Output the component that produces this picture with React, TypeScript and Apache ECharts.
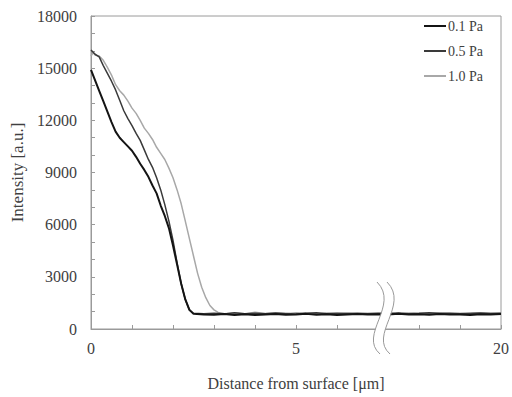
import React, { useEffect, useRef } from "react";
import * as echarts from "echarts";

// Distance [µm], intensity [a.u.]
const seriesNames = ["0.1 Pa", "0.5 Pa", "1.0 Pa"];

const pa01: [number, number][] = [
  [0, 14900], [0.1, 14300], [0.2, 13700], [0.3, 13100], [0.4, 12500], [0.5, 11900],
  [0.6, 11350], [0.7, 11000], [0.8, 10750], [0.9, 10500], [1.0, 10250], [1.1, 9900],
  [1.2, 9500], [1.3, 9150], [1.4, 8750], [1.5, 8250], [1.6, 7800], [1.7, 7100],
  [1.8, 6500], [1.9, 5800], [2.0, 4800], [2.1, 3700], [2.2, 2600], [2.3, 1700],
  [2.4, 1100], [2.5, 870], [2.75, 840], [3.0, 820], [3.25, 860], [3.5, 810],
  [3.75, 850], [4.0, 800], [4.25, 840], [4.5, 860], [4.75, 820], [5.0, 830],
  [5.25, 870], [5.5, 820], [5.75, 850], [6.0, 810], [6.25, 840], [6.5, 860],
  [6.75, 830], [7.0, 850], [17.25, 840], [17.5, 870], [17.75, 830], [18.0, 850],
  [18.25, 820], [18.5, 860], [18.75, 830], [19.0, 840], [19.25, 810], [19.5, 850],
  [19.75, 830], [20.0, 860],
];

const pa05: [number, number][] = [
  [0, 16050], [0.1, 15800], [0.2, 15650], [0.3, 15150], [0.4, 14700], [0.5, 14250],
  [0.6, 13750], [0.7, 13150], [0.8, 12550], [0.9, 12100], [1.0, 11700], [1.1, 11250],
  [1.2, 10850], [1.3, 10300], [1.4, 9750], [1.5, 9300], [1.6, 8700], [1.7, 8000],
  [1.8, 7150], [1.9, 6200], [2.0, 5100], [2.1, 3800], [2.2, 2600], [2.3, 1700],
  [2.4, 1100], [2.5, 900], [2.75, 880], [3.0, 910], [3.25, 870], [3.5, 940],
  [3.75, 880], [4.0, 900], [4.25, 870], [4.5, 920], [4.75, 890], [5.0, 860],
  [5.25, 900], [5.5, 940], [5.75, 880], [6.0, 900], [6.25, 870], [6.5, 910],
  [6.75, 880], [7.0, 900], [17.25, 890], [17.5, 920], [17.75, 880], [18.0, 900],
  [18.25, 930], [18.5, 890], [18.75, 910], [19.0, 880], [19.25, 900], [19.5, 920],
  [19.75, 890], [20.0, 900],
];

const pa10: [number, number][] = [
  [0, 15700], [0.05, 15900], [0.1, 15750], [0.2, 15700], [0.3, 15450], [0.4, 15050],
  [0.5, 14600], [0.6, 14050], [0.7, 13700], [0.8, 13450], [0.9, 13100], [1.0, 12700],
  [1.1, 12400], [1.2, 12000], [1.3, 11550], [1.4, 11250], [1.5, 10900], [1.6, 10450],
  [1.7, 10100], [1.8, 9750], [1.9, 9250], [2.0, 8700], [2.1, 8000], [2.2, 7200],
  [2.3, 6200], [2.4, 5200], [2.5, 4200], [2.6, 3200], [2.7, 2400], [2.8, 1800],
  [2.9, 1350], [3.0, 1100], [3.1, 950], [3.25, 880], [3.5, 920], [3.75, 870],
  [4.0, 960], [4.25, 890], [4.5, 920], [4.75, 880], [5.0, 930], [5.25, 900],
  [5.5, 870], [5.75, 920], [6.0, 890], [6.25, 930], [6.5, 880], [6.75, 910],
  [7.0, 890], [17.25, 910], [17.5, 880], [17.75, 920], [18.0, 890], [18.25, 900],
  [18.5, 940], [18.75, 890], [19.0, 910], [19.25, 880], [19.5, 920], [19.75, 900],
  [20.0, 910],
];

const yTicks = { min: 0, max: 18000, interval: 3000 };
const xLabelMap: Record<number, string> = { 0: "0", 5: "5", 10: "20" };

// broken axis: distances beyond the break are shifted by the omitted span
const BREAK_AT = 7.2;
const OMITTED = 10;
const toAxis = (pts: [number, number][]) =>
  pts.map(([d, v]) => [d > BREAK_AT ? d - OMITTED : d, v]);

const FONT = "Liberation Serif";
const AXIS_GRAY = "#9a9a9a";
const TEXT = "#404040";
const COLORS = ["#141414", "#3a3a3a", "#a8a8a8"];
const WIDTHS = [2, 1.5, 1.5];

export default function App() {
  const ref = useRef<HTMLDivElement>(null);
  useEffect(() => {
    if (!ref.current) return;
    const chart = echarts.init(ref.current, undefined, { renderer: "svg" });
    const lineSeries = (i: number, data: [number, number][]) => ({
      name: seriesNames[i],
      type: "line",
      data: toAxis(data),
      showSymbol: false,
      symbol: "none",
      lineStyle: { color: COLORS[i], width: WIDTHS[i] },
      itemStyle: { color: COLORS[i] },
    });
    const bx = 377;
    chart.setOption({
      animation: false,
      backgroundColor: "#fff",
      textStyle: { fontFamily: FONT },
      grid: {
        left: 91, right: 11, top: 16, bottom: 68,
        show: true, borderColor: AXIS_GRAY, borderWidth: 1,
      },
      legend: {
        data: seriesNames.map((n, i) => ({
          name: n,
          icon: "rect",
          itemStyle: { color: COLORS[i] },
        })),
        orient: "vertical",
        right: 29,
        top: 19,
        padding: 0,
        itemWidth: 22,
        itemHeight: WIDTHS[0],
        itemGap: 11,
        textStyle: { fontFamily: FONT, fontSize: 14, color: TEXT, padding: [0, 0, 0, -3] },
      },
      xAxis: {
        type: "value",
        min: 0,
        max: 10,
        interval: 1,
        name: "Distance from surface [\u03bcm]",
        nameLocation: "middle",
        nameGap: 46,
        nameTextStyle: { fontFamily: FONT, fontSize: 16, color: TEXT },
        axisLine: { lineStyle: { color: AXIS_GRAY } },
        axisTick: { inside: true, length: 4, lineStyle: { color: AXIS_GRAY } },
        axisLabel: {
          formatter: (v: number) => xLabelMap[v] ?? "",
          fontFamily: FONT, fontSize: 16, color: TEXT, margin: 11,
        },
        splitLine: { show: false },
      },
      yAxis: {
        type: "value",
        min: yTicks.min,
        max: yTicks.max,
        interval: yTicks.interval,
        name: "Intensity [a.u.]",
        nameLocation: "middle",
        nameGap: 60,
        nameTextStyle: { fontFamily: FONT, fontSize: 17, color: TEXT },
        axisLine: { show: true, lineStyle: { color: AXIS_GRAY } },
        axisTick: { inside: true, length: 4, lineStyle: { color: AXIS_GRAY } },
        minorTick: { show: true, splitNumber: 3, length: 4, lineStyle: { color: AXIS_GRAY } },
        axisLabel: {
          formatter: (v: number) => String(v),
          fontFamily: FONT, fontSize: 16, color: TEXT, margin: 14,
        },
        splitLine: { show: false },
      },
      series: [lineSeries(2, pa10), lineSeries(1, pa05), lineSeries(0, pa01)],
      graphic: [
        {
          type: "bezierCurve", z: 100,
          shape: { x1: bx + 5, y1: 282, x2: bx + 8, y2: 354, cpx1: bx + 28, cpy1: 305, cpx2: bx - 14, cpy2: 335 },
          style: { stroke: "#fff", lineWidth: 9, fill: null },
        },
        {
          type: "bezierCurve", z: 101,
          shape: { x1: bx, y1: 282, x2: bx + 3, y2: 354, cpx1: bx + 23, cpy1: 305, cpx2: bx - 19, cpy2: 335 },
          style: { stroke: "#999", lineWidth: 1, fill: null },
        },
        {
          type: "bezierCurve", z: 101,
          shape: { x1: bx + 10, y1: 282, x2: bx + 13, y2: 354, cpx1: bx + 33, cpy1: 305, cpx2: bx - 9, cpy2: 335 },
          style: { stroke: "#999", lineWidth: 1, fill: null },
        },
      ],
    });
    return () => chart.dispose();
  }, []);
  return <div ref={ref} style={{ width: 512, height: 397, position: "absolute", left: 0, top: 0 }} />;
}
